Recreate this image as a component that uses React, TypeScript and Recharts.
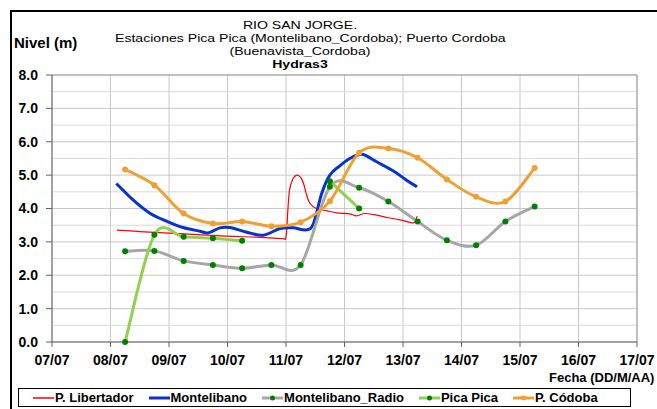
import { CartesianGrid, Line, LineChart, ReferenceLine, XAxis, YAxis } from "recharts";

const DATES = ["07/07", "08/07", "09/07", "10/07", "11/07", "12/07", "13/07", "14/07", "15/07", "16/07", "17/07"];
const DAY_TICKS = [0, 1, 2, 3, 4, 5, 6, 7, 8, 9, 10];
const LEVEL_TICKS = [0, 1, 2, 3, 4, 5, 6, 7, 8];
const MINOR_LEVELS = [0.5, 1.5, 2.5, 3.5, 4.5, 5.5, 6.5, 7.5];

// days counted from 07/07 00:00
const LIBERTADOR_DAYS = [1.11, 1.5, 2.0, 2.5, 3.0, 3.5, 3.93, 4.0, 4.03, 4.06, 4.12, 4.19, 4.25, 4.3, 4.35, 4.41, 4.52, 4.7, 4.87, 5.09, 5.21, 5.35, 5.55, 5.73, 5.95, 6.15, 6.21, 6.24];
const LIBERTADOR = [3.35, 3.31, 3.26, 3.22, 3.17, 3.14, 3.1, 3.15, 3.9, 4.55, 4.9, 5.0, 4.93, 4.75, 4.42, 4.15, 4.0, 3.93, 3.87, 3.84, 3.78, 3.85, 3.8, 3.73, 3.66, 3.57, 3.6, 3.77];

const MONTELIBANO_DAYS = [1.1, 1.39, 1.68, 1.96, 2.24, 2.53, 2.67, 2.87, 3.04, 3.33, 3.61, 3.9, 4.12, 4.35, 4.47, 4.61, 4.75, 4.92, 5.09, 5.26, 5.35, 5.55, 5.83, 6.06, 6.24];
const MONTELIBANO = [4.75, 4.25, 3.85, 3.62, 3.43, 3.32, 3.27, 3.42, 3.43, 3.29, 3.2, 3.4, 3.42, 3.36, 3.55, 4.45, 5.0, 5.28, 5.5, 5.62, 5.6, 5.4, 5.13, 4.85, 4.65];

const OBS_DAYS = [1.25, 1.75, 2.25, 2.75, 3.25, 3.75, 4.25, 4.75, 5.25, 5.75, 6.25, 6.75, 7.25, 7.75, 8.25];
const RADIO = [2.72, 2.73, 2.43, 2.31, 2.21, 2.31, 2.31, 4.65, 4.62, 4.21, 3.61, 3.05, 2.9, 3.61, 4.06];
const PICA = [0, 3.21, 3.15, 3.11, 3.03, null, null, 4.82, 4.0];
const CORDOBA = [5.17, 4.7, 3.85, 3.55, 3.61, 3.47, 3.59, 4.22, 5.67, 5.8, 5.52, 4.87, 4.35, 4.21, 5.21];

const zip = (days: number[], vals: (number | null)[]) => vals.map((v, i) => ({ d: days[i], v }));

const FONT = "'Liberation Sans', Arial, sans-serif";

// Excel-style smoothed line (Catmull-Rom through the points)
const smooth = (context: any) => {
  let pts: number[][] = [];
  return {
    areaStart() {},
    areaEnd() {},
    lineStart() {
      pts = [];
    },
    lineEnd() {
      if (!pts.length) return;
      context.moveTo(pts[0][0], pts[0][1]);
      for (let i = 0; i < pts.length - 1; i++) {
        const p0 = pts[i - 1] || pts[i];
        const p1 = pts[i];
        const p2 = pts[i + 1];
        const p3 = pts[i + 2] || p2;
        context.bezierCurveTo(
          p1[0] + (p2[0] - p0[0]) / 6,
          p1[1] + (p2[1] - p0[1]) / 6,
          p2[0] - (p3[0] - p1[0]) / 6,
          p2[1] - (p3[1] - p1[1]) / 6,
          p2[0],
          p2[1]
        );
      }
    },
    point(x: number, y: number) {
      pts.push([x, y]);
    },
  };
};

const SERIES = [
  { name: "P. Libertador", color: "#ff0000", width: 1.2, dot: null as string | null, data: zip(LIBERTADOR_DAYS, LIBERTADOR) },
  { name: "Montelibano", color: "#0632d2", width: 3, dot: null, data: zip(MONTELIBANO_DAYS, MONTELIBANO) },
  { name: "Montelibano_Radio", color: "#a6a6a6", width: 3, dot: "#008000", data: zip(OBS_DAYS, RADIO) },
  { name: "Pica Pica", color: "#92d050", width: 3, dot: "#008000", data: zip(OBS_DAYS, PICA) },
  { name: "P. Códoba", color: "#f0a030", width: 3, dot: "#f0a030", data: zip(OBS_DAYS, CORDOBA) },
];

const tickStyle = { fill: "#000", fontSize: 14, fontWeight: "bold", fontFamily: FONT };

const titleStyle = (top: number, bold = false): any => ({
  position: "absolute",
  left: 0,
  top,
  width: 600,
  textAlign: "center",
  fontFamily: FONT,
  fontSize: 11,
  fontWeight: bold ? "bold" : "normal",
  lineHeight: "12px",
  transform: "scaleX(1.28)",
  transformOrigin: "300px 0",
});

function Legend() {
  return (
    <div
      style={{
        position: "absolute",
        left: 18,
        top: 388,
        width: 597,
        height: 17,
        border: "1px solid #000",
        display: "flex",
        alignItems: "center",
        paddingLeft: 14,
        boxSizing: "content-box",
        fontFamily: FONT,
        fontWeight: "bold",
        fontSize: 13,
        gap: 15,
      }}
    >
      {SERIES.map((s) => (
        <div key={s.name} style={{ display: "flex", alignItems: "center" }}>
          <svg width={21} height={10} style={{ marginRight: 1 }}>
            <line x1={0} y1={5} x2={21} y2={5} stroke={s.color} strokeWidth={s.width > 2 ? 3 : 1.5} />
            {s.dot && <circle cx={10.5} cy={5} r={2.5} fill={s.dot} />}
          </svg>
          <span>{s.name}</span>
        </div>
      ))}
    </div>
  );
}

export default function App() {
  return (
    <div style={{ position: "fixed", left: 0, top: 0, width: 657, height: 409, overflow: "hidden", background: "#fff" }}>
      <div
        style={{
          position: "absolute",
          left: 10,
          top: 10,
          width: 700,
          height: 450,
          borderLeft: "2px solid #000",
          borderTop: "2px solid #000",
        }}
      />
      <div style={titleStyle(18.5)}>RIO SAN JORGE.</div>
      <div
        style={{
          ...titleStyle(31.5),
          left: 115,
          width: "auto",
          whiteSpace: "nowrap",
          textAlign: "left",
          transformOrigin: "0 0",
        }}
      >
        Estaciones Pica Pica (Montelibano_Cordoba); Puerto Cordoba
      </div>
      <div style={titleStyle(44.5)}>(Buenavista_Cordoba)</div>
      <div style={titleStyle(57.5, true)}>Hydras3</div>
      <div style={{ position: "absolute", left: 14, top: 36, fontFamily: FONT, fontSize: 15, fontWeight: "bold", lineHeight: "14px" }}>
        Nivel (m)
      </div>
      <div style={{ position: "absolute", left: 549, top: 371, whiteSpace: "nowrap", fontFamily: FONT, fontSize: 13, fontWeight: "bold", lineHeight: "13px" }}>
        Fecha (DD/M/AA)
      </div>

      <div style={{ position: "absolute", left: 0, top: 0 }}>
        <LineChart width={657} height={409} margin={{ top: 75, right: 20, left: 12, bottom: 37 }}>
          <CartesianGrid stroke="#c8c8c8" />
          {MINOR_LEVELS.map((y) => (
            <ReferenceLine key={y} y={y} stroke="#dadada" />
          ))}
          <ReferenceLine y={8} stroke="#9a9a9a" />
          <ReferenceLine x={10} stroke="#9a9a9a" />
          <XAxis
            dataKey="d"
            type="number"
            domain={[0, 10]}
            ticks={DAY_TICKS}
            tickFormatter={(i: number) => DATES[i]}
            stroke="#606060"
            tick={tickStyle}
            tickSize={5}
            tickMargin={8}
            height={30}
            allowDataOverflow
          />
          <YAxis
            type="number"
            domain={[0, 8]}
            ticks={LEVEL_TICKS}
            tickFormatter={(v: number) => v.toFixed(1)}
            stroke="#606060"
            tick={tickStyle}
            tickSize={6}
            tickMargin={8}
            width={40}
          />
          {SERIES.map((s) => (
            <Line
              key={s.name}
              data={s.data}
              dataKey="v"
              name={s.name}
              type={smooth as any}
              stroke={s.color}
              strokeWidth={s.width}
              dot={s.dot ? { r: 3, fill: s.dot, stroke: "none" } : false}
              activeDot={false}
              isAnimationActive={false}
            />
          ))}
        </LineChart>
      </div>
      <Legend />
    </div>
  );
}
